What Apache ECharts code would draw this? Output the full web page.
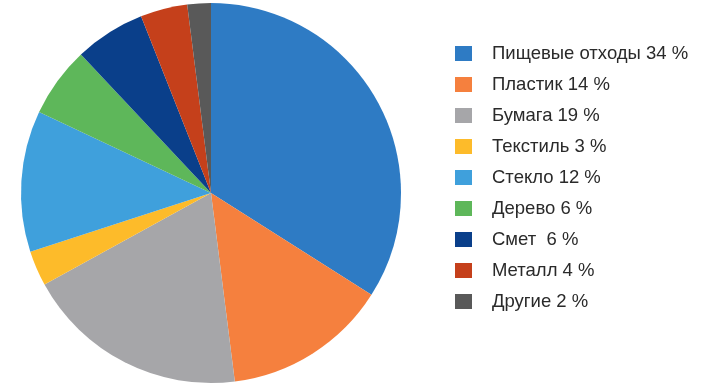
<!DOCTYPE html>
<html><head><meta charset="utf-8">
<script src="https://cdn.jsdelivr.net/npm/echarts@6/dist/echarts.min.js"></script>
<style>html,body{margin:0;padding:0;background:#fff}#c{width:727px;height:391px}</style>
</head><body><div id="c"></div>
<script>
const categories = ['Пищевые отходы 34 %','Пластик 14 %','Бумага 19 %','Текстиль 3 %','Стекло 12 %','Дерево 6 %','Смет  6 %','Металл 4 %','Другие 2 %'];
const values = [34,14,19,3,12,6,6,4,2];
const colors = ['#2E7BC4','#F5803E','#A6A6A9','#FDBB2A','#3FA0DC','#5EB75A','#0A3F8A','#C5401B','#595959'];
const chart = echarts.init(document.getElementById('c'));
chart.setOption({
  animation:false,
  color: colors,
  legend:{
    orient:'vertical', left:455, top:44, padding:0,
    itemWidth:17, itemHeight:15, itemGap:12,
    icon:'rect',
    textStyle:{fontFamily:'"Liberation Sans", Arial, sans-serif', fontSize:18.5, lineHeight:17, color:'#2a2a2a', padding:[0,0,0,15]},
    data: categories
  },
  series:[{
    type:'pie', center:[211,193], radius:190, startAngle:90, clockwise:true,
    label:{show:false}, labelLine:{show:false},
    emphasis:{disabled:true},
    itemStyle:{borderWidth:0},
    data: categories.map((n,i)=>({name:n, value:values[i]}))
  }]
});
</script></body></html>
